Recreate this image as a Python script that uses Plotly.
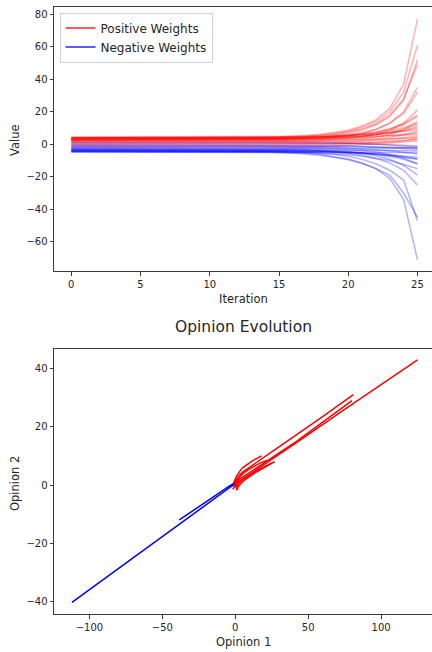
import plotly.graph_objects as go

# ---------------- data: top chart (value per iteration) ----------------
iterations = list(range(26))

pos_weights = [
    [4.0, 4.0, 4.0, 4.0, 4.0, 4.0, 4.0, 4.0, 4.0, 4.0, 4.0, 4.0, 4.0, 4.2, 4.4, 4.6, 4.9, 5.5, 6.2, 7.3, 8.7, 11.3, 15.0, 22.0, 37.0, 77.0],
    [3.5, 3.5, 3.5, 3.5, 3.5, 3.5, 3.5, 3.5, 3.5, 3.5, 3.5, 3.5, 3.5, 3.6, 3.8, 4.0, 4.3, 4.8, 5.5, 6.5, 8.0, 10.5, 14.0, 20.0, 32.0, 61.0],
    [3.0, 3.0, 3.0, 3.0, 3.0, 3.0, 3.0, 3.0, 3.0, 3.0, 3.0, 3.0, 3.0, 3.1, 3.2, 3.4, 3.7, 4.1, 4.7, 5.6, 6.8, 8.8, 12.0, 17.0, 27.0, 52.0],
    [3.8, 3.8, 3.8, 3.8, 3.8, 3.8, 3.8, 3.8, 3.8, 3.8, 3.8, 3.8, 3.8, 3.9, 4.0, 4.2, 4.5, 4.9, 5.5, 6.3, 7.5, 9.5, 12.5, 18.0, 28.0, 49.0],
    [2.5, 2.5, 2.5, 2.5, 2.5, 2.5, 2.5, 2.5, 2.5, 2.5, 2.5, 2.5, 2.5, 2.6, 2.7, 2.8, 3.0, 3.3, 3.8, 4.4, 5.3, 6.7, 9.0, 13.0, 20.0, 35.0],
    [3.2, 3.2, 3.2, 3.2, 3.2, 3.2, 3.2, 3.2, 3.2, 3.2, 3.2, 3.2, 3.2, 3.3, 3.4, 3.5, 3.7, 4.0, 4.4, 5.0, 5.8, 7.2, 9.3, 13.0, 19.0, 32.0],
    [2.0, 2.0, 2.0, 2.0, 2.0, 2.0, 2.0, 2.0, 2.0, 2.0, 2.0, 2.0, 2.0, 2.0, 2.1, 2.2, 2.4, 2.6, 2.9, 3.3, 3.9, 4.8, 6.2, 8.5, 13.0, 21.0],
    [3.6, 3.6, 3.6, 3.6, 3.6, 3.6, 3.6, 3.6, 3.6, 3.6, 3.6, 3.6, 3.6, 3.6, 3.7, 3.8, 3.9, 4.1, 4.4, 4.8, 5.3, 6.1, 7.3, 9.2, 12.0, 17.0],
    [1.5, 1.5, 1.5, 1.5, 1.5, 1.5, 1.5, 1.5, 1.5, 1.5, 1.5, 1.5, 1.5, 1.5, 1.6, 1.6, 1.7, 1.9, 2.1, 2.4, 2.8, 3.4, 4.4, 6.0, 9.0, 14.0],
    [4.2, 4.2, 4.2, 4.2, 4.2, 4.2, 4.2, 4.2, 4.2, 4.2, 4.2, 4.2, 4.2, 4.2, 4.3, 4.3, 4.4, 4.6, 4.8, 5.1, 5.5, 6.1, 7.0, 8.4, 10.3, 13.0],
    [2.8, 2.8, 2.8, 2.8, 2.8, 2.8, 2.8, 2.8, 2.8, 2.8, 2.8, 2.8, 2.8, 2.8, 2.8, 2.9, 3.0, 3.2, 3.4, 3.7, 4.2, 4.9, 5.9, 7.4, 9.4, 12.0],
    [3.3, 3.3, 3.3, 3.3, 3.3, 3.3, 3.3, 3.3, 3.3, 3.3, 3.3, 3.3, 3.3, 3.3, 3.3, 3.4, 3.5, 3.6, 3.8, 4.1, 4.5, 5.1, 5.9, 7.0, 8.4, 10.0],
    [1.0, 1.0, 1.0, 1.0, 1.0, 1.0, 1.0, 1.0, 1.0, 1.0, 1.0, 1.0, 1.0, 1.0, 1.0, 1.1, 1.1, 1.2, 1.4, 1.6, 1.9, 2.4, 3.1, 4.2, 5.8, 8.0],
    [3.9, 3.9, 3.9, 3.9, 3.9, 3.9, 3.9, 3.9, 3.9, 3.9, 3.9, 3.9, 3.9, 3.9, 3.9, 3.9, 4.0, 4.0, 4.1, 4.2, 4.4, 4.6, 4.9, 5.2, 5.6, 6.0],
    [0.5, 0.5, 0.5, 0.5, 0.5, 0.5, 0.5, 0.5, 0.5, 0.5, 0.5, 0.5, 0.5, 0.5, 0.5, 0.5, 0.6, 0.7, 0.8, 1.0, 1.3, 1.7, 2.3, 3.0, 3.9, 5.0],
    [2.2, 2.2, 2.2, 2.2, 2.2, 2.2, 2.2, 2.2, 2.2, 2.2, 2.2, 2.2, 2.2, 2.2, 2.2, 2.2, 2.3, 2.3, 2.4, 2.5, 2.7, 2.9, 3.2, 3.5, 3.8, 4.0],
    [-0.5, -0.5, -0.5, -0.5, -0.5, -0.5, -0.5, -0.5, -0.5, -0.5, -0.5, -0.5, -0.5, -0.5, -0.5, -0.5, -0.4, -0.3, -0.2, 0.0, 0.3, 0.7, 1.2, 1.8, 2.4, 3.0],
    [4.5, 4.5, 4.5, 4.5, 4.5, 4.5, 4.5, 4.5, 4.5, 4.5, 4.5, 4.5, 4.5, 4.5, 4.5, 4.6, 4.6, 4.7, 4.8, 5.0, 5.3, 5.7, 6.3, 7.0, 7.9, 9.0],
    [-1.5, -1.5, -1.5, -1.5, -1.5, -1.5, -1.5, -1.5, -1.5, -1.5, -1.5, -1.5, -1.5, -1.5, -1.5, -1.5, -1.4, -1.3, -1.2, -1.0, -0.7, -0.3, 0.2, 0.8, 1.4, 2.0],
    [1.8, 1.8, 1.8, 1.8, 1.8, 1.8, 1.8, 1.8, 1.8, 1.8, 1.8, 1.8, 1.8, 1.8, 1.8, 1.8, 1.7, 1.6, 1.5, 1.3, 1.0, 0.6, 0.1, -0.5, -1.2, -2.0],
    [3.4, 3.4, 3.4, 3.4, 3.4, 3.4, 3.4, 3.4, 3.4, 3.4, 3.4, 3.4, 3.4, 3.4, 3.4, 3.5, 3.6, 3.7, 3.9, 4.2, 4.6, 5.2, 6.0, 7.0, 8.3, 11.0],
    [2.6, 2.6, 2.6, 2.6, 2.6, 2.6, 2.6, 2.6, 2.6, 2.6, 2.6, 2.6, 2.6, 2.6, 2.6, 2.6, 2.7, 2.8, 3.0, 3.2, 3.5, 4.0, 4.6, 5.4, 6.2, 7.0],
    [0.0, 0.0, 0.0, 0.0, 0.0, 0.0, 0.0, 0.0, 0.0, 0.0, 0.0, 0.0, 0.0, 0.0, 0.0, 0.0, 0.1, 0.1, 0.2, 0.3, 0.5, 0.7, 1.0, 1.4, 2.2, 3.5],
    [3.7, 3.7, 3.7, 3.7, 3.7, 3.7, 3.7, 3.7, 3.7, 3.7, 3.7, 3.7, 3.7, 3.7, 3.7, 3.8, 3.9, 4.1, 4.4, 4.8, 5.4, 6.3, 7.6, 9.6, 12.8, 18.0],
]

neg_weights = [
    [-4.0, -4.0, -4.0, -4.0, -4.0, -4.0, -4.0, -4.0, -4.0, -4.0, -4.0, -4.0, -4.0, -4.0, -4.2, -4.5, -4.9, -5.5, -6.3, -7.5, -9.0, -11.5, -15.0, -21.0, -34.0, -71.0],
    [-3.5, -3.5, -3.5, -3.5, -3.5, -3.5, -3.5, -3.5, -3.5, -3.5, -3.5, -3.5, -3.5, -3.6, -3.7, -3.9, -4.2, -4.7, -5.3, -6.2, -7.4, -9.3, -12.0, -16.0, -22.0, -47.0],
    [-4.5, -4.5, -4.5, -4.5, -4.5, -4.5, -4.5, -4.5, -4.5, -4.5, -4.5, -4.5, -4.5, -4.6, -4.8, -5.0, -5.4, -6.0, -6.8, -8.0, -9.5, -11.8, -15.0, -19.0, -30.0, -45.0],
    [-3.0, -3.0, -3.0, -3.0, -3.0, -3.0, -3.0, -3.0, -3.0, -3.0, -3.0, -3.0, -3.0, -3.0, -3.1, -3.2, -3.4, -3.7, -4.1, -4.7, -5.5, -6.8, -8.7, -11.5, -16.0, -25.0],
    [-2.5, -2.5, -2.5, -2.5, -2.5, -2.5, -2.5, -2.5, -2.5, -2.5, -2.5, -2.5, -2.5, -2.5, -2.6, -2.7, -2.9, -3.1, -3.4, -3.9, -4.5, -5.5, -7.0, -9.2, -13.0, -19.0],
    [-4.8, -4.8, -4.8, -4.8, -4.8, -4.8, -4.8, -4.8, -4.8, -4.8, -4.8, -4.8, -4.8, -4.8, -4.8, -4.9, -5.0, -5.2, -5.5, -5.9, -6.5, -7.3, -8.5, -10.0, -12.5, -15.0],
    [-2.0, -2.0, -2.0, -2.0, -2.0, -2.0, -2.0, -2.0, -2.0, -2.0, -2.0, -2.0, -2.0, -2.0, -2.0, -2.1, -2.2, -2.3, -2.5, -2.8, -3.2, -3.8, -4.8, -6.3, -8.6, -12.0],
    [-3.8, -3.8, -3.8, -3.8, -3.8, -3.8, -3.8, -3.8, -3.8, -3.8, -3.8, -3.8, -3.8, -3.8, -3.8, -3.9, -3.9, -4.0, -4.2, -4.4, -4.7, -5.2, -5.9, -6.7, -7.7, -9.0],
    [-4.2, -4.2, -4.2, -4.2, -4.2, -4.2, -4.2, -4.2, -4.2, -4.2, -4.2, -4.2, -4.2, -4.2, -4.2, -4.2, -4.3, -4.4, -4.5, -4.7, -5.0, -5.4, -5.9, -6.5, -7.2, -8.0],
    [-1.5, -1.5, -1.5, -1.5, -1.5, -1.5, -1.5, -1.5, -1.5, -1.5, -1.5, -1.5, -1.5, -1.5, -1.5, -1.5, -1.6, -1.7, -1.8, -2.0, -2.3, -2.7, -3.3, -4.0, -4.9, -6.0],
    [-3.2, -3.2, -3.2, -3.2, -3.2, -3.2, -3.2, -3.2, -3.2, -3.2, -3.2, -3.2, -3.2, -3.2, -3.2, -3.2, -3.2, -3.3, -3.3, -3.4, -3.5, -3.6, -3.7, -3.8, -3.9, -4.0],
    [-4.6, -4.6, -4.6, -4.6, -4.6, -4.6, -4.6, -4.6, -4.6, -4.6, -4.6, -4.6, -4.6, -4.6, -4.6, -4.6, -4.6, -4.6, -4.6, -4.7, -4.7, -4.8, -4.8, -4.9, -5.0, -5.0],
    [-0.5, -0.5, -0.5, -0.5, -0.5, -0.5, -0.5, -0.5, -0.5, -0.5, -0.5, -0.5, -0.5, -0.5, -0.5, -0.5, -0.6, -0.7, -0.8, -0.9, -1.1, -1.4, -1.8, -2.2, -2.6, -3.0],
    [-2.8, -2.8, -2.8, -2.8, -2.8, -2.8, -2.8, -2.8, -2.8, -2.8, -2.8, -2.8, -2.8, -2.8, -2.8, -2.8, -2.7, -2.7, -2.6, -2.6, -2.5, -2.4, -2.3, -2.2, -2.1, -2.0],
    [1.0, 1.0, 1.0, 1.0, 1.0, 1.0, 1.0, 1.0, 1.0, 1.0, 1.0, 1.0, 1.0, 1.0, 1.0, 1.0, 0.9, 0.9, 0.8, 0.7, 0.5, 0.3, 0.0, -0.3, -0.6, -1.0],
    [-3.6, -3.6, -3.6, -3.6, -3.6, -3.6, -3.6, -3.6, -3.6, -3.6, -3.6, -3.6, -3.6, -3.6, -3.6, -3.7, -3.8, -3.9, -4.1, -4.4, -4.8, -5.4, -6.3, -7.5, -9.3, -12.0],
    [-4.4, -4.4, -4.4, -4.4, -4.4, -4.4, -4.4, -4.4, -4.4, -4.4, -4.4, -4.4, -4.4, -4.4, -4.4, -4.4, -4.5, -4.6, -4.7, -4.9, -5.2, -5.6, -6.2, -7.0, -7.9, -9.0],
    [-1.0, -1.0, -1.0, -1.0, -1.0, -1.0, -1.0, -1.0, -1.0, -1.0, -1.0, -1.0, -1.0, -1.0, -1.0, -1.0, -1.0, -1.1, -1.1, -1.2, -1.3, -1.4, -1.6, -1.8, -2.0, -2.3],
]

# ---------------- data: bottom chart (opinion trajectories) ----------------
red_opinion1 = [
    [0.5, 0.6, 0.8, 1.2, 2.0, 3.5, 6.0, 10.0, 17.0, 28.0, 45.0, 75.0, 125.0],
    [-0.5, -0.3, 0.0, 0.5, 1.2, 2.2, 3.5, 5.5, 9.0, 15.0, 25.0, 40.0, 58.0, 81.0],
    [0.0, 0.3, 0.8, 1.5, 2.5, 4.0, 6.5, 10.5, 17.0, 27.0, 42.0, 60.0, 80.0],
    [-1.0, -0.8, -0.3, 0.5, 1.5, 3.0, 5.0, 8.0, 12.0, 18.0],
    [0.0, 0.5, 1.2, 2.2, 3.6, 5.5, 8.5, 13.0, 19.0, 27.0],
    [1.0, 1.5, 2.2, 3.2, 4.6, 6.6, 9.5, 13.5, 19.0, 25.0],
    [-0.5, 0.0, 0.8, 2.0, 3.6, 5.8, 9.0, 13.0, 17.0, 22.0],
    [-1.8, -1.2, -0.6, 0.0, 0.6],
    [1.8, 1.5, 1.1, 0.6],
    [-1.5, -0.8, 0.0, 1.0, 2.2],
    [0.5, 1.0, 1.6, 2.4],
    [-2.0, -1.5, -1.0, -0.5],
]
red_opinion2 = [
    [0.3, 0.4, 0.5, 0.7, 1.0, 1.5, 2.3, 3.6, 6.0, 9.8, 15.6, 26.0, 43.0],
    [0.2, 0.6, 1.0, 1.6, 2.3, 3.0, 3.7, 4.6, 5.9, 7.9, 11.4, 16.5, 22.8, 31.0],
    [-0.5, 0.0, 0.6, 1.2, 1.8, 2.4, 3.2, 4.5, 6.6, 10.0, 15.0, 21.5, 29.0],
    [0.2, 0.8, 1.6, 2.6, 3.6, 4.7, 5.9, 7.1, 8.4, 10.0],
    [-0.8, -0.5, 0.0, 0.6, 1.2, 2.0, 3.0, 4.4, 6.0, 8.0],
    [-1.2, -0.9, -0.4, 0.2, 0.9, 1.8, 2.9, 4.2, 5.7, 7.5],
    [-0.3, 0.4, 1.2, 2.1, 3.1, 4.2, 5.3, 6.4, 7.5, 8.5],
    [-1.5, -1.1, -0.7, -0.3, 0.1],
    [-1.6, -1.0, -0.4, 0.2],
    [1.0, 0.9, 0.8, 0.7, 0.6],
    [-1.8, -1.2, -0.6, 0.0],
    [-0.5, -0.2, 0.1, 0.4],
]
blue_opinion1 = [
    [-0.5, -0.8, -1.4, -2.5, -4.5, -8.0, -14.0, -25.0, -43.0, -72.0, -112.0],
    [-1.0, -1.4, -2.0, -3.0, -4.7, -7.4, -11.5, -17.5, -26.0, -38.4],
]
blue_opinion2 = [
    [0.3, 0.2, 0.0, -0.4, -1.1, -2.4, -4.6, -8.6, -15.2, -25.8, -40.3],
    [0.6, 0.5, 0.3, 0.0, -0.6, -1.5, -2.9, -4.9, -7.9, -12.0],
]

# ---------------- ticks ----------------
top_xticks = [0, 5, 10, 15, 20, 25]
top_yticks = [-60, -40, -20, 0, 20, 40, 60, 80]
bot_xticks = [-100, -50, 0, 50, 100]
bot_yticks = [-40, -20, 0, 20, 40]


def lab(v):
    return str(v).replace("-", "\u2212")


W, H = 432, 652
FONT = "DejaVu Sans"
TXT = "#262626"
AX = "#3a3a3a"

fig = go.Figure()

for vals in pos_weights:
    fig.add_trace(go.Scatter(x=iterations, y=vals, mode="lines",
                             line=dict(color="rgba(255,0,0,0.3)", width=1.5),
                             showlegend=False, hoverinfo="skip", xaxis="x", yaxis="y"))
for vals in neg_weights:
    fig.add_trace(go.Scatter(x=iterations, y=vals, mode="lines",
                             line=dict(color="rgba(0,0,255,0.3)", width=1.5),
                             showlegend=False, hoverinfo="skip", xaxis="x", yaxis="y"))

fig.add_trace(go.Scatter(x=[None], y=[None], mode="lines", name="Positive Weights",
                         line=dict(color="rgba(255,0,0,0.85)", width=1.5), xaxis="x", yaxis="y"))
fig.add_trace(go.Scatter(x=[None], y=[None], mode="lines", name="Negative Weights",
                         line=dict(color="rgba(0,0,255,0.85)", width=1.5), xaxis="x", yaxis="y"))

for ox, oy in zip(red_opinion1, red_opinion2):
    fig.add_trace(go.Scatter(x=ox, y=oy, mode="lines", line=dict(color="#ff0000", width=1.5),
                             showlegend=False, hoverinfo="skip", xaxis="x2", yaxis="y2"))
for ox, oy in zip(blue_opinion1, blue_opinion2):
    fig.add_trace(go.Scatter(x=ox, y=oy, mode="lines", line=dict(color="#0000ff", width=1.5),
                             showlegend=False, hoverinfo="skip", xaxis="x2", yaxis="y2"))

axis_common = dict(showgrid=False, zeroline=False, showline=True, linecolor=AX, linewidth=1,
                   ticks="outside", ticklen=3.5, tickwidth=1, tickcolor=AX,
                   tickfont=dict(family=FONT, size=10, color=TXT), automargin=False)

fig.update_layout(
    width=W, height=H,
    margin=dict(l=0, r=0, t=0, b=0),
    paper_bgcolor="white", plot_bgcolor="white",
    font=dict(family=FONT, color=TXT),
    xaxis=dict(domain=[54 / W, 1], anchor="y", range=[-1.25, 26.05], mirror=True,
               tickvals=top_xticks, ticktext=[lab(v) for v in top_xticks], **axis_common),
    yaxis=dict(domain=[1 - 271 / H, 1 - 7 / H], anchor="x", range=[-78.0, 84.5],
               tickvals=top_yticks, ticktext=[lab(v) for v in top_yticks], **axis_common),
    xaxis2=dict(domain=[54 / W, 1], anchor="y2", range=[-124.3, 134.9], mirror=True,
                tickvals=bot_xticks, ticktext=[lab(v) for v in bot_xticks], **axis_common),
    yaxis2=dict(domain=[1 - 614.3 / H, 1 - 349.3 / H], anchor="x2", range=[-44.4, 46.6],
                tickvals=bot_yticks, ticktext=[lab(v) for v in bot_yticks], **axis_common),
    legend=dict(x=59.5 / W, y=1 - 12.5 / H, xanchor="left", yanchor="top",
                bgcolor="rgba(255,255,255,0.8)", bordercolor="#d0d0d0", borderwidth=1,
                font=dict(family=FONT, size=12, color=TXT), itemwidth=30,
                tracegroupgap=0),
    showlegend=True,
)

annots = [
    dict(text="Iteration", x=243 / W, y=1 - 299 / H, size=11.5, angle=0),
    dict(text="Value", x=15 / W, y=1 - 140 / H, size=11.5, angle=-90),
    dict(text="Opinion 1", x=244 / W, y=1 - 642 / H, size=11.5, angle=0),
    dict(text="Opinion 2", x=15 / W, y=1 - 484 / H, size=11.5, angle=-90),
    dict(text="Opinion Evolution", x=243.3 / W, y=1 - 326.5 / H, size=15.5, angle=0),
]
for a in annots:
    fig.add_annotation(text=a["text"], x=a["x"], y=a["y"], xref="paper", yref="paper",
                       xanchor="center", yanchor="middle", showarrow=False,
                       textangle=a["angle"], font=dict(family=FONT, size=a["size"], color=TXT))

fig.write_html(
    "out.html",
    config={"displayModeBar": False},
    post_script="document.body.style.margin='0';document.body.style.padding='0';"
                "document.body.style.overflow='hidden';"
                "document.documentElement.style.overflow='hidden';",
)
